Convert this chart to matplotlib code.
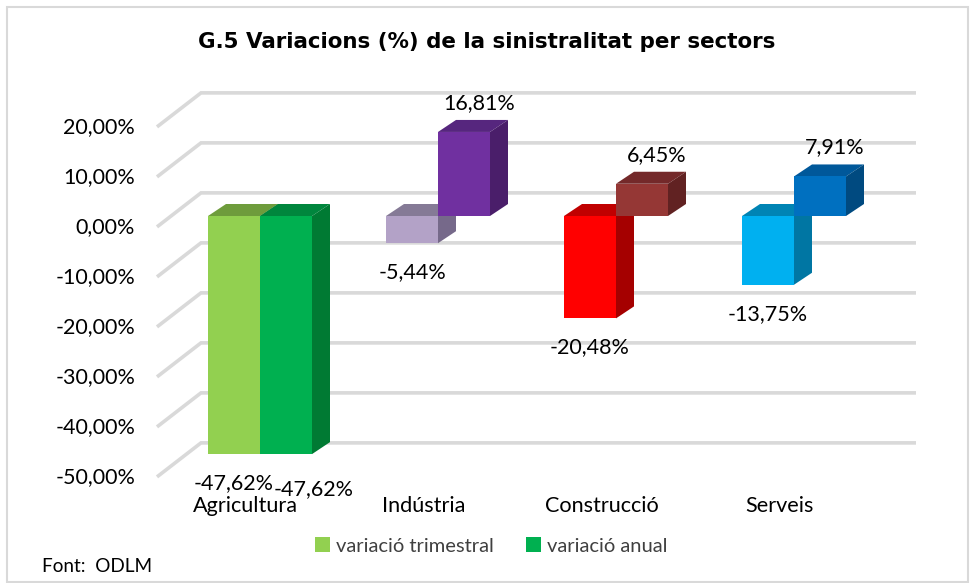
import matplotlib
matplotlib.use("Agg")
import matplotlib.pyplot as plt
from matplotlib.patches import Polygon, Patch, Rectangle

# ---------------- data ----------------
categories = ["Agricultura", "Indústria", "Construcció", "Serveis"]
series_names = ["variació trimestral", "variació anual"]
trimestral = [-47.62, -5.44, -20.48, -13.75]
anual = [-47.62, 16.81, 6.45, 7.91]
yticks = [20, 10, 0, -10, -20, -30, -40, -50]
ytick_labels = ["20,00%", "10,00%", "0,00%", "-10,00%", "-20,00%", "-30,00%", "-40,00%", "-50,00%"]
title = "G.5 Variacions (%) de la sinistralitat per sectors"
source = "Font:  ODLM"

# colours per category: (series 0, series 1) -> (front, top, side)
colors = [
    [("#92D050", "#6E9C3C", "#5E8A32"), ("#00B050", "#00863D", "#007A33")],
    [("#B3A2C7", "#857A96", "#76698A"), ("#7030A0", "#56267E", "#4A1E6A")],
    [("#FF0000", "#C00000", "#A50000"), ("#953735", "#74292A", "#612222")],
    [("#00B0F0", "#0084B4", "#0076A3"), ("#0070C0", "#00589A", "#004A80")],
]
legend_colors = ["#92D050", "#00B050"]

# ---------------- geometry ----------------
W, H, DPI = 971, 583, 100
PXC, C0 = 178.0, 260.0      # px per category, px of first category centre
PXV, V0 = 5.0, 216.0        # px per percent, px of zero line (bar fronts)

fig = plt.figure(figsize=(W / DPI, H / DPI), dpi=DPI)
ax = fig.add_axes([0, 0, 1, 1])
ax.set_xlim(-C0 / PXC, (W - C0) / PXC)
ax.set_ylim((V0 - H) / PXV, V0 / PXV)
ax.axis("off")

FONT = "Lato"
WALL_DX, WALL_DY = 44 / PXC, 34 / PXV   # front plane -> back wall
ZB = 0.32                                # depth of bar fronts
BDX, BDY = 18 / PXC, 12 / PXV            # bar depth
BW = 52 / PXC                            # bar width
GRID_LEFT_BACK = (201 - C0) / PXC
GRID_RIGHT = (916 - C0) / PXC

# outer frame
fig.patches.append(Rectangle((7 / W, 1 / H), 961 / W, 575 / H, transform=fig.transFigure,
                             fill=False, edgecolor="#D9D9D9", linewidth=1.5, zorder=0))

# gridlines (back wall + diagonal floor edge)
gcol = "#D9D9D9"
for g, lab in zip(yticks, ytick_labels):
    yb = g + (1 - ZB) * WALL_DY
    yf = g - ZB * WALL_DY
    ax.plot([GRID_LEFT_BACK - WALL_DX, GRID_LEFT_BACK, GRID_RIGHT], [yf, yb, yb],
            color=gcol, linewidth=2.6, solid_capstyle="butt", solid_joinstyle="miter", zorder=1)
    ax.text(GRID_LEFT_BACK - WALL_DX - 22 / PXC, yf, lab, ha="right", va="center",
            fontsize=15.5, family=FONT, color="#000000")

# bars
all_series = [trimestral, anual]
for si, vals in enumerate(all_series):
    x = [k + (si - 0.5) * BW for k in range(len(categories))]
    bars = ax.bar(x, vals, width=BW, color=[colors[k][si][0] for k in range(len(vals))],
                  linewidth=0, zorder=3 + 2 * si)
    for k, (b, v) in enumerate(zip(bars, vals)):
        x0, x1 = b.get_x(), b.get_x() + b.get_width()
        yt, yb = max(v, 0), min(v, 0)
        _, topc, sidec = colors[k][si]
        ax.add_patch(Polygon([(x0, yt), (x1, yt), (x1 + BDX, yt + BDY), (x0 + BDX, yt + BDY)],
                             closed=True, facecolor=topc, linewidth=0, zorder=2 + 2 * si))
        ax.add_patch(Polygon([(x1, yb), (x1, yt), (x1 + BDX, yt + BDY), (x1 + BDX, yb + BDY)],
                             closed=True, facecolor=sidec, linewidth=0, zorder=2 + 2 * si))
        # data label
        xc = (x0 + x1) / 2
        lab = f"{v:.2f}%".replace(".", ",")
        if v >= 0:
            lx, ly = xc + 15 / PXC, v + BDY + 17 / PXV
        else:
            lx, ly = xc, v - 29 / PXV
            if si == 1 and all_series[0][k] < 0 and abs(all_series[0][k] - v) < 3:
                lx, ly = lx + 28 / PXC, ly - 6 / PXV
        ax.text(lx, ly, lab, ha="center", va="center", fontsize=15.5, family=FONT,
                color="#000000", zorder=10)

# category labels (front plane)
for k, cat in enumerate(categories):
    ax.text(k - ZB * WALL_DX, (V0 - 506) / PXV, cat, ha="center", va="center",
            fontsize=15.6, family=FONT, color="#000000", zorder=11)

# title
fig.text(487 / W, 1 - 42 / H, title, ha="center", va="center", fontsize=15.4,
         family="DejaVu Sans", weight="bold", color="#000000")

# legend
handles = [Patch(facecolor=c, edgecolor="none") for c in legend_colors]
leg = fig.legend(handles, series_names, loc="center", bbox_to_anchor=(491 / W, 1 - 546 / H),
                 ncol=2, frameon=False, handlelength=0.75, handleheight=0.75,
                 handletextpad=0.3, columnspacing=1.6,
                 prop={"family": FONT, "size": 14.5})
for t in leg.get_texts():
    t.set_color("#404040")

# source
fig.text(42 / W, 1 - 566 / H, source, ha="left", va="center", fontsize=13.7,
         family=FONT, color="#000000")

fig.savefig("out.png", dpi=DPI)
